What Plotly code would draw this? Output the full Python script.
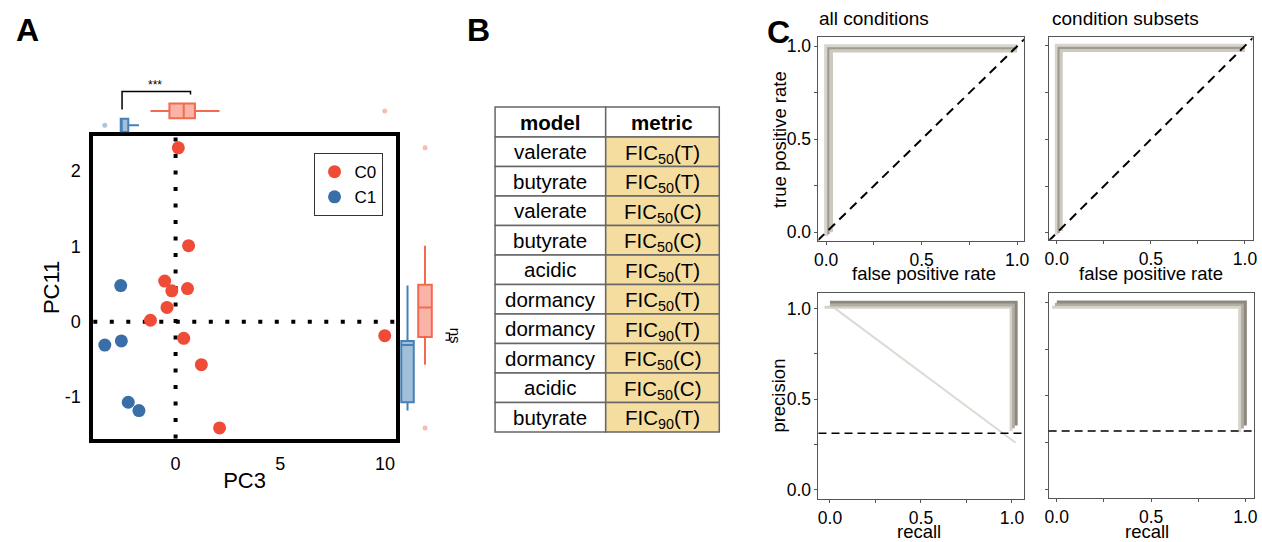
import plotly.graph_objects as go

W, H = 1262, 542
FONT = "Liberation Sans, Arial, sans-serif"

# ---------------- Panel A data (PCA scores) ----------------
c0_pc3 = [0.13, 0.62, -0.52, -0.18, 0.57, -0.41, -1.20, 0.39, 1.23, 2.10, 9.99]
c0_pc11 = [2.31, 1.01, 0.54, 0.41, 0.44, 0.19, 0.02, -0.22, -0.57, -1.41, -0.185]
c1_pc3 = [-2.62, -3.38, -2.59, -2.26, -1.75]
c1_pc11 = [0.48, -0.31, -0.255, -1.07, -1.18]
pc3_ticks = [0, 5, 10]
pc11_ticks = [-1, 0, 1, 2]

# ---------------- Panel B data (table) ----------------
table_header = ["model", "metric"]
table_models = ["valerate", "butyrate", "valerate", "butyrate", "acidic",
                "dormancy", "dormancy", "dormancy", "acidic", "butyrate"]
table_fic = [50, 50, 50, 50, 50, 50, 90, 50, 50, 90]
table_cond = ["T", "T", "C", "C", "T", "T", "T", "C", "C", "T"]

# ---------------- Panel C data (curves of three models) ----------------
roc_all_fpr = [[0.0, 0.0, 1.0], [0.012, 0.012, 1.0], [0.028, 0.028, 1.0]]
roc_all_tpr = [[-0.02, 1.0, 1.0], [-0.01, 0.988, 0.988], [0.0, 0.975, 0.975]]
roc_sub_fpr = [[0.0, 0.0, 1.0], [0.01, 0.01, 1.0], [0.024, 0.024, 1.0]]
roc_sub_tpr = [[-0.01, 1.0, 1.0], [0.0, 0.988, 0.988], [0.01, 0.975, 0.975]]
pr_all_rec = [[-0.03, 0.995, 0.995], [0.0, 1.008, 1.008], [0.0, 1.023, 1.023], [0.0, 1.02]]
pr_all_prec = [[1.008, 1.008, 0.325], [1.02, 1.02, 0.34], [1.035, 1.035, 0.355], [1.022, 0.26]]
pr_sub_rec = [[-0.025, 0.97, 0.97], [-0.01, 0.985, 0.985], [0.0, 1.0, 1.0]]
pr_sub_prec = [[0.975, 0.975, 0.305], [0.99, 0.99, 0.325], [1.003, 1.003, 0.342]]
unit_ticks = [0, 0.5, 1.0]
unit_ticktext = ["0.0", "0.5", "1.0"]
unit_minor = [0.25, 0.75]


def dx(a, b):
    return [a / W, b / W]


def dy(top, bottom):
    return [1 - bottom / H, 1 - top / H]


def px2paper(x, y):
    return x / W, 1 - y / H


RED = "#F04B37"
BLUE = "#3A6EA8"
RED_LINE = "#F26A50"
RED_FILL = "rgba(245,105,80,0.5)"
BLUE_LINE = "#4680B5"
BLUE_FILL = "rgba(70,128,181,0.5)"

fig = go.Figure()

# ---- Panel A scatter ----
fig.add_trace(go.Scatter(x=c0_pc3, y=c0_pc11, mode="markers", name="C0",
                         marker=dict(color=RED, size=13), xaxis="x", yaxis="y"))
fig.add_trace(go.Scatter(x=c1_pc3, y=c1_pc11, mode="markers", name="C1",
                         marker=dict(color=BLUE, size=13), xaxis="x", yaxis="y"))

box_common = dict(boxpoints="outliers", pointpos=0, jitter=0, showlegend=False,
                  hoverinfo="skip", whiskerwidth=0, quartilemethod="inclusive")
# top marginal boxes (PC3)
fig.add_trace(go.Box(x=c1_pc3, y0=0.39, width=0.74, orientation="h", xaxis="x2", yaxis="y2",
                     line=dict(color=BLUE_LINE, width=2), fillcolor=BLUE_FILL,
                     marker=dict(color="rgba(70,128,181,0.45)", size=5), **box_common))
fig.add_trace(go.Box(x=c0_pc3, y0=1.194, width=0.83, orientation="h", xaxis="x2", yaxis="y2",
                     line=dict(color=RED_LINE, width=2), fillcolor=RED_FILL,
                     marker=dict(color="rgba(245,105,80,0.45)", size=5), **box_common))
# right marginal boxes (PC11)
fig.add_trace(go.Box(y=c1_pc11, x0=0.43, width=0.7, xaxis="x3", yaxis="y3",
                     line=dict(color=BLUE_LINE, width=2), fillcolor=BLUE_FILL,
                     marker=dict(color="rgba(70,128,181,0.45)", size=5), **box_common))
fig.add_trace(go.Box(y=c0_pc11, x0=1.41, width=0.76, xaxis="x3", yaxis="y3",
                     line=dict(color=RED_LINE, width=2), fillcolor=RED_FILL,
                     marker=dict(color="rgba(245,105,80,0.45)", size=5), **box_common))

# ---- Panel C curves ----
shade_roc = [("#d8d5cd", 4), ("#a09b90", 2.5), ("#cdc9c0", 3)]
shade_pr = [("#d6d3cb", 3), ("#b3aea4", 3), ("#8e897e", 3), ("#dddad4", 2)]


def add_curves(xs, ys, shades, xa, ya):
    for (xv, yv), (col, w) in zip(zip(xs, ys), shades):
        fig.add_trace(go.Scatter(x=xv, y=yv, mode="lines", line=dict(color=col, width=w),
                                 xaxis=xa, yaxis=ya, showlegend=False, hoverinfo="skip"))


add_curves(roc_all_fpr, roc_all_tpr, shade_roc, "x4", "y4")
add_curves(roc_sub_fpr, roc_sub_tpr, shade_roc, "x5", "y5")
pr_order = [3, 0, 1, 2]
add_curves([pr_all_rec[i] for i in pr_order], [pr_all_prec[i] for i in pr_order],
           [shade_pr[i] for i in pr_order], "x6", "y6")
add_curves(pr_sub_rec, pr_sub_prec, shade_pr[:3], "x7", "y7")

baseline = len(c1_pc3) / (len(c0_pc3) + len(c1_pc3))

# ---- Layout ----
axA = dict(showline=True, mirror=True, linewidth=4, linecolor="black", showgrid=False,
           zeroline=False, ticks="", tickfont=dict(size=18, color="black"))
hidden = dict(visible=False, showgrid=False, zeroline=False)
axC = dict(showline=True, mirror=True, linewidth=1, linecolor="#555555", showgrid=False,
           zeroline=False, ticks="outside", ticklen=3, tickwidth=1, tickcolor="#555555",
           tickvals=unit_ticks, ticktext=unit_ticktext, tickfont=dict(size=17.5, color="black"),
           minor=dict(tickvals=unit_minor, ticks="outside", ticklen=3, tickwidth=1,
                      tickcolor="#555555", showgrid=False))

layout = dict(
    width=W, height=H, autosize=False, margin=dict(l=0, r=0, t=0, b=0),
    paper_bgcolor="white", plot_bgcolor="white",
    font=dict(family=FONT, color="black"),
    showlegend=True,
    legend=dict(x=312 / W, y=1 - 153 / H, xanchor="left", yanchor="top",
                bordercolor="#333333", borderwidth=1, bgcolor="white",
                font=dict(size=17), tracegroupgap=0, itemwidth=30),
    xaxis=dict(axA, domain=dx(90, 395), range=[-3.93, 10.52], anchor="y",
               tickvals=pc3_ticks, ticktext=[str(v) for v in pc3_ticks], ticklabelstandoff=6,
               title=dict(text="PC3", font=dict(size=22), standoff=0)),
    yaxis=dict(axA, domain=dy(136, 440), range=[-1.552, 2.464], anchor="x",
               tickvals=pc11_ticks, ticktext=[str(v) for v in pc11_ticks], ticklabelstandoff=5,
               title=dict(text="PC11", font=dict(size=22), standoff=0)),
    xaxis2=dict(hidden, domain=dx(90, 395), range=[-3.93, 10.52], anchor="y2"),
    yaxis2=dict(hidden, domain=dy(96, 132), range=[0, 2], anchor="x2"),
    xaxis3=dict(hidden, domain=dx(399, 435), range=[0, 2], anchor="y3"),
    yaxis3=dict(hidden, domain=dy(136, 440), range=[-1.552, 2.464], anchor="x3"),
    xaxis4=dict(axC, domain=dx(821, 1028), range=[-0.04, 1.035], anchor="y4"),
    yaxis4=dict(axC, domain=dy(36.5, 241), range=[-0.045, 1.048], anchor="x4"),
    xaxis5=dict(axC, domain=dx(1053, 1258.5), range=[-0.043, 1.04], anchor="y5"),
    yaxis5=dict(axC, domain=dy(36, 240), range=[-0.036, 1.048], anchor="x5",
                showticklabels=False),
    xaxis6=dict(axC, domain=dx(821, 1028.5), range=[-0.063, 1.068], anchor="y6"),
    yaxis6=dict(axC, domain=dy(294, 500.7), range=[-0.05, 1.084], anchor="x6"),
    xaxis7=dict(axC, domain=dx(1053, 1260), range=[-0.043, 1.046], anchor="y7"),
    yaxis7=dict(axC, domain=dy(293.5, 500), range=[-0.048, 1.052], anchor="x7",
                showticklabels=False),
)
fig.update_layout(**layout)

dot = dict(color="black", width=4, dash="4px,12.5px")
shapes = [
    dict(type="line", xref="x", yref="y domain", x0=0, x1=0, y0=0, y1=1, line=dot, layer="below"),
    dict(type="line", xref="x domain", yref="y", x0=0, x1=1, y0=0, y1=0, line=dot, layer="below"),
]


def path_px(points):
    pts = [px2paper(x, y) for x, y in points]
    return "M " + " L ".join("%f,%f" % p for p in pts)


# significance brackets
shapes.append(dict(type="path", xref="paper", yref="paper",
                   path=path_px([(119, 109), (119, 91), (188, 91), (188, 94)]),
                   line=dict(color="black", width=1.5)))
shapes.append(dict(type="path", xref="paper", yref="paper",
                   path=path_px([(445, 334), (449, 334), (449, 341), (445, 341)]),
                   line=dict(color="black", width=1.2)))
# chance lines
for k in ("4", "5"):
    shapes.append(dict(type="line", xref="x" + k, yref="y" + k, x0=-0.1, y0=-0.1, x1=1.1, y1=1.1,
                       line=dict(color="black", width=2, dash="9px,6px")))
for k in ("6", "7"):
    shapes.append(dict(type="line", xref="x" + k + " domain", yref="y" + k, x0=0, x1=1,
                       y0=baseline, y1=baseline,
                       line=dict(color="black", width=1.5, dash="8px,5px")))

# ---- Panel B table (cells built from the table lists) ----
tab_left, tab_split, tab_right = 495, 606.5, 721
tab_top, head_h = 106.7, 30
row_h = (433.3 - tab_top - head_h) / len(table_models)
metric_text = ["FIC<sub>%d</sub>(%s)" % (f, c) for f, c in zip(table_fic, table_cond)]
rows = [("<b>%s</b>" % table_header[0], "<b>%s</b>" % table_header[1])] + list(zip(table_models, metric_text))
annotations = []
TAN = "#F5DC9F"
for i, (mtxt, ctxt) in enumerate(rows):
    y_top = tab_top if i == 0 else tab_top + head_h + (i - 1) * row_h
    h = head_h if i == 0 else row_h
    for (xa, xb, txt, fill) in ((tab_left, tab_split, mtxt, "white"),
                                (tab_split, tab_right, ctxt, "white" if i == 0 else TAN)):
        x0, y1 = px2paper(xa, y_top)
        x1, y0 = px2paper(xb, y_top + h)
        shapes.append(dict(type="rect", xref="paper", yref="paper", x0=x0, x1=x1, y0=y0, y1=y1,
                           fillcolor=fill, line=dict(color="#666666", width=1.5), layer="below"))
        cx, cy = px2paper((xa + xb) / 2, y_top + h / 2 + (2 if "sub" in txt else 0))
        annotations.append(dict(text=txt, x=cx, y=cy, font=dict(size=20.5)))

fig.update_layout(shapes=shapes)

annotations += [
    dict(text="<b>A</b>", x=24 / W, y=1 - 29 / H, font=dict(size=32)),
    dict(text="<b>B</b>", x=478 / W, y=1 - 29 / H, font=dict(size=32)),
    dict(text="<b>C</b>", x=781 / W, y=1 - 31 / H, font=dict(size=32)),
    dict(text="all conditions", x=819 / W, y=1 - 18 / H, xanchor="left", font=dict(size=19)),
    dict(text="condition subsets", x=1054 / W, y=1 - 18 / H, xanchor="left", font=dict(size=19)),
    dict(text="***", x=152 / W, y=1 - 84 / H, font=dict(size=12)),
    dict(text="ns", x=455 / W, y=1 - 337 / H, textangle=90, font=dict(size=15)),
    dict(text="true positive rate", x=781 / W, y=1 - 139 / H, textangle=-90, font=dict(size=18.5)),
    dict(text="precision", x=781 / W, y=1 - 397 / H, textangle=-90, font=dict(size=18.5)),
    dict(text="false positive rate", x=927 / W, y=1 - 274 / H, font=dict(size=18.5)),
    dict(text="false positive rate", x=1156 / W, y=1 - 274 / H, font=dict(size=18.5)),
    dict(text="recall", x=922 / W, y=1 - 533 / H, font=dict(size=18.5)),
    dict(text="recall", x=1152 / W, y=1 - 533 / H, font=dict(size=18.5)),
]
for a in annotations:
    a.update(xref="paper", yref="paper", showarrow=False)
    a.setdefault("xanchor", "center")
    a.setdefault("yanchor", "middle")
fig.update_layout(annotations=annotations)

fig.write_html("out.html")
